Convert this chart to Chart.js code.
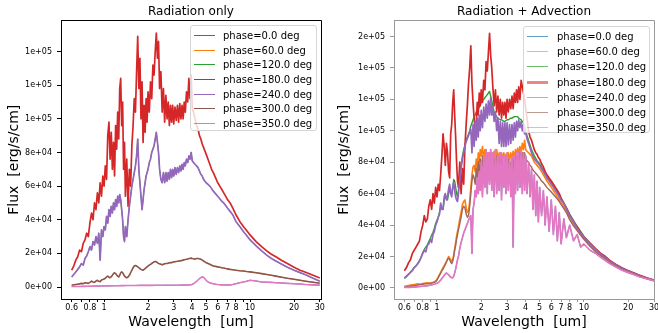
<!DOCTYPE html>
<html>
<head>
<meta charset="utf-8">
<script src="https://cdn.jsdelivr.net/npm/chart.js@4.4.1/dist/chart.umd.min.js"></script>
<style>
  body { margin: 0; background: #fff; }
  #wrap { position: relative; width: 658px; height: 333px; font-family: "DejaVu Sans", sans-serif; }
  canvas { position: absolute; top: 0; }
  .legend { position: absolute; box-sizing: border-box; border: 1px solid #d6d6d6; border-radius: 3px;
            background: rgba(255, 255, 255, 0.8); font-size: 10px; color: #000; padding-top: 2px; }
  .legend .row { display: flex; align-items: center; white-space: nowrap; }
  .legend .swatch { display: inline-block; width: 21px; height: 0; margin-left: 3px; }
</style>
</head>
<body>
<div id="wrap">
  <canvas id="left" width="330" height="333" style="left:0"></canvas>
  <canvas id="right" width="328" height="333" style="left:330px"></canvas>
  <div id="legend-left" class="legend" style="left:190px; top:25px; width:127px; height:106px"></div>
  <div id="legend-right" class="legend" style="left:523px; top:26px; width:127px; height:107px"></div>
</div>
<script>
const FONT = '"DejaVu Sans", sans-serif';

const phaseLabels = ['phase=0.0 deg', 'phase=60.0 deg', 'phase=120.0 deg', 'phase=180.0 deg',
                     'phase=240.0 deg', 'phase=300.0 deg', 'phase=350.0 deg'];

const xTicks = [0.6, 0.7, 0.8, 0.9, 1, 2, 3, 4, 5, 6, 7, 8, 9, 10, 20, 30];
const xLabels = [0.6, 0.8, 1, 2, 3, 4, 5, 6, 7, 8, 10, 20, 30];
const yTicksLeft = [0, 20000, 40000, 60000, 80000, 100000, 120000, 140000];
const yTicksRight = [0, 20000, 40000, 60000, 80000, 100000, 120000, 140000, 160000];

// wavelength grid (um), 10 per row
const wavelengths = [
  0.6, 0.62, 0.64, 0.66, 0.68, 0.7, 0.72, 0.74, 0.76, 0.78,
  0.8, 0.82, 0.84, 0.86, 0.88, 0.9, 0.92, 0.94, 0.96, 0.98,
  1.0, 1.02, 1.04, 1.06, 1.08, 1.1, 1.12, 1.14, 1.16, 1.18,
  1.2, 1.22, 1.24, 1.26, 1.28, 1.3, 1.32, 1.34, 1.36, 1.38,
  1.4, 1.43, 1.46, 1.49, 1.52, 1.55, 1.58, 1.61, 1.64, 1.67,
  1.7, 1.73, 1.76, 1.79, 1.82, 1.85, 1.88, 1.91, 1.94, 1.97,
  2.0, 2.04, 2.08, 2.12, 2.16, 2.2, 2.24, 2.28, 2.32, 2.36,
  2.4, 2.45, 2.5, 2.55, 2.6, 2.65, 2.7, 2.75, 2.8, 2.85,
  2.9, 2.95, 3.0, 3.06, 3.12, 3.18, 3.24, 3.3, 3.36, 3.42,
  3.48, 3.54, 3.6, 3.67, 3.74, 3.81, 3.88, 3.95, 4.02, 4.1,
  4.2, 4.3, 4.4, 4.5, 4.6, 4.7, 4.8, 4.9, 5.0, 5.15,
  5.3, 5.45, 5.6, 5.8, 6.0, 6.2, 6.4, 6.6, 6.8, 7.0,
  7.3, 7.6, 8.0, 8.5, 9.0, 9.5, 10, 11, 12, 13,
  14, 15, 16.5, 18, 20, 22, 24, 27, 30
];

// ---- Radiation only ----
const leftFlux180 = [
  10000, 12500, 16000, 18000, 22000, 21000, 26000, 28000, 32000, 30000,
  38000, 44000, 40000, 50000, 46000, 56000, 50000, 62000, 54000, 66000,
  60000, 72000, 64000, 90000, 98000, 76000, 92000, 70000, 86000, 66000,
  96000, 82000, 104000, 88000, 118000, 124000, 96000, 110000, 70000, 86000,
  54000, 76000, 48000, 70000, 60000, 84000, 96000, 112000, 104000, 128000,
  149000, 118000, 136000, 100000, 122000, 86000, 108000, 92000, 112000, 98000,
  116000, 104000, 122000, 112000, 132000, 126000, 140000, 151000, 136000, 146000,
  118000, 128000, 104000, 118000, 98000, 114000, 100000, 110000, 96000, 108000,
  98000, 108000, 97000, 107000, 99000, 108000, 98000, 109000, 100000, 108000,
  100000, 110000, 104000, 116000, 110000, 124000, 112000, 126000, 106000, 104000,
  100000, 96000, 94000, 90000, 88000, 85000, 83000, 81000, 79000, 76000,
  73000, 70000, 68000, 65000, 62000, 60000, 58000, 56000, 54000, 52000,
  50000, 47000, 43000, 39000, 36000, 33500, 31000, 27000, 24000, 21500,
  19500, 18000, 15800, 14000, 11800, 10000, 8800, 7000, 5400
];
const leftFlux240 = [
  6000, 7500, 9000, 10500, 12000, 14000, 13000, 17000, 18500, 21000,
  24000, 22000, 27000, 25000, 30000, 26000, 32000, 16000, 34000, 30000,
  36000, 34000, 42000, 38000, 46000, 42000, 48000, 44000, 50000, 46000,
  52000, 48000, 54000, 50000, 55000, 52000, 46000, 40000, 30000, 27000,
  36000, 30000, 40000, 48000, 54000, 60000, 64000, 68000, 72000, 78000,
  88000, 70000, 62000, 54000, 46000, 52000, 58000, 62000, 66000, 68000,
  70000, 74000, 76000, 80000, 82000, 84000, 88000, 92000, 86000, 80000,
  70000, 64000, 62000, 68000, 62000, 68000, 63000, 68000, 64000, 70000,
  65000, 70000, 66000, 71000, 67000, 71000, 68000, 72000, 69000, 73000,
  70000, 74000, 72000, 76000, 74000, 78000, 76000, 80000, 75000, 74000,
  73000, 72000, 71000, 69000, 67000, 66000, 64000, 63000, 62000, 61000,
  60000, 58500, 57000, 55500, 54000, 52500, 51000, 50000, 48500, 47000,
  45000, 43000, 39000, 36000, 33000, 30500, 28000, 24500, 21500, 19000,
  17000, 15500, 13500, 11800, 10000, 8600, 7300, 5200, 3500
];
const leftFlux300 = [
  1200, 1300, 1500, 1700, 1900, 2200, 2000, 2600, 2400, 2200,
  2800, 3500, 3000, 2800, 3600, 4000, 3400, 3200, 4200, 4500,
  4800, 5200, 6000, 6500, 5800, 5500, 6200, 7000, 8000, 8500,
  8000, 7200, 6500, 6000, 7000, 8500, 9000, 8500, 7500, 6500,
  6000, 5500, 6000, 7000, 8500, 10000, 11500, 12500, 12800, 12500,
  12000, 11500, 11000, 10500, 10200, 10000, 10500, 11000, 11500, 12000,
  12500, 13000, 13500, 14000, 14500, 15000, 15200, 15000, 14500, 14000,
  13800, 13500, 13200, 13500, 13800, 14000, 14000, 14200, 14400, 14500,
  14500, 14700, 15000, 15000, 15200, 15300, 15500, 15500, 15700, 15800,
  16000, 16200, 16400, 16500, 16700, 17000, 17000, 17200, 17000, 16800,
  16600, 17000, 17000, 16800, 16500, 16000, 15500, 15000, 14500, 14000,
  13500, 13000, 12500, 12300, 12000, 11800, 11500, 11300, 11000, 10800,
  10500, 10300, 10000, 9700, 9500, 9200, 9000, 8500, 8000, 7500,
  7000, 6500, 5800, 5200, 4600, 4000, 3500, 2900, 2300
];
const leftFlux350 = [
  300, 300, 320, 340, 360, 380, 400, 420, 440, 460,
  480, 500, 520, 540, 560, 580, 600, 600, 620, 640,
  650, 660, 680, 700, 700, 720, 740, 750, 760, 780,
  800, 800, 810, 820, 830, 840, 850, 850, 860, 870,
  880, 890, 900, 900, 910, 920, 930, 940, 950, 960,
  970, 980, 990, 1000, 1000, 1000, 1000, 1000, 1000, 1000,
  1000, 1000, 1000, 1000, 1000, 1050, 1050, 1050, 1050, 1050,
  1050, 1050, 1050, 1050, 1100, 1100, 1100, 1100, 1100, 1100,
  1100, 1100, 1100, 1100, 1100, 1100, 1100, 1100, 1150, 1150,
  1150, 1150, 1200, 1200, 1250, 1300, 1350, 1400, 1600, 2000,
  2600, 3400, 4200, 5000, 5600, 6000, 5800, 5000, 4000, 3000,
  2500, 2200, 2000, 1700, 1500, 1400, 1300, 1300, 1200, 1200,
  1300, 1500, 2000, 2600, 3000, 3500, 4000, 3600, 3000, 2900,
  2800, 2600, 2400, 2200, 2000, 1800, 1500, 1300, 1100
];
// hidden under their symmetric partners
const leftFlux0 = leftFlux350;
const leftFlux60 = leftFlux300;
const leftFlux120 = leftFlux240;

// ---- Radiation + Advection ----
const rightFlux60 = [
  1300, 1400, 1600, 1800, 2000, 2200, 2400, 2600, 2500, 2400,
  2800, 3000, 3200, 3300, 3200, 3000, 3400, 3600, 4000, 4500,
  5500, 7000, 8500, 10000, 11500, 13000, 14000, 15500, 17000, 18500,
  20000, 19000, 18000, 17000, 18000, 21000, 25000, 29000, 33000, 36000,
  39000, 44000, 48000, 53000, 55000, 56000, 51000, 48000, 49000, 55000,
  64000, 72000, 77000, 78000, 74000, 82000, 76000, 86000, 80000, 88000,
  84000, 90000, 82000, 88000, 80000, 86000, 80000, 86000, 80000, 86000,
  80000, 87000, 80000, 88000, 82000, 86000, 80000, 86000, 82000, 86000,
  82000, 85000, 82000, 86000, 81000, 86000, 82000, 87000, 82000, 88000,
  84000, 89000, 85000, 90000, 86000, 92000, 88000, 94000, 88000, 87000,
  86000, 85000, 84000, 82000, 80000, 79000, 78000, 77000, 76000, 74000,
  72000, 70000, 68000, 66000, 64000, 62000, 60000, 58000, 56000, 54000,
  51500, 49000, 44000, 40000, 37000, 34000, 31500, 27000, 23500, 21000,
  19000, 16500, 14300, 12200, 10400, 9000, 7500, 6000, 4800
];
const rightFlux120 = [
  6000, 7200, 8500, 10000, 11500, 13000, 14200, 15500, 17500, 19500,
  22500, 24500, 26000, 27500, 29500, 31500, 33500, 35500, 38000, 41000,
  43000, 45000, 48000, 52000, 51000, 50000, 56000, 58000, 57000, 56000,
  60000, 62000, 61000, 60000, 64000, 69000, 68000, 64000, 60000, 58000,
  62000, 70000, 78000, 84000, 88000, 91000, 94000, 96000, 98000, 100000,
  103000, 105000, 107000, 109000, 110000, 112000, 113000, 114000, 115000, 116000,
  118000, 119000, 120000, 121000, 122000, 123000, 124000, 125000, 122000, 119000,
  116000, 112000, 110000, 109000, 108000, 107500, 107000, 107000, 106500, 106000,
  106000, 106500, 107000, 107000, 107500, 108000, 108000, 108500, 109000, 109000,
  109000, 109000, 108000, 107500, 107000, 106000, 105000, 103000, 100000, 97000,
  94000, 91000, 88000, 86000, 84000, 82500, 81000, 80000, 79000, 77000,
  75000, 73000, 71000, 69000, 67000, 65000, 63000, 61000, 59000, 57000,
  54000, 51000, 47000, 43000, 39000, 36000, 33000, 28500, 25000, 22000,
  20000, 17300, 15000, 12800, 11000, 9400, 8000, 6300, 5000
];
const rightFlux180 = [
  11000, 13000, 16000, 18000, 22000, 24000, 26000, 28000, 30000, 36000,
  40000, 46000, 42000, 44000, 52000, 56000, 50000, 60000, 54000, 64000,
  58000, 66000, 62000, 72000, 84000, 98000, 90000, 78000, 92000, 86000,
  74000, 70000, 98000, 104000, 118000, 126000, 110000, 96000, 80000, 68000,
  64000, 80000, 60000, 76000, 66000, 90000, 104000, 116000, 130000, 140000,
  154000, 130000, 118000, 108000, 100000, 104000, 118000, 110000, 124000, 116000,
  126000, 118000, 132000, 126000, 144000, 138000, 150000, 162000, 148000, 140000,
  128000, 116000, 126000, 112000, 122000, 110000, 120000, 108000, 118000, 110000,
  118000, 108000, 120000, 112000, 120000, 114000, 122000, 114000, 124000, 118000,
  126000, 118000, 128000, 120000, 132000, 128000, 124000, 120000, 114000, 108000,
  100000, 96000, 94000, 91000, 88000, 86000, 85000, 83000, 82000, 79000,
  77000, 74000, 72000, 70000, 68000, 66000, 64000, 62000, 60000, 57000,
  54000, 51000, 46500, 42000, 39000, 35500, 32500, 28500, 25000, 22000,
  20000, 17500, 15000, 13000, 11000, 9500, 8000, 6300, 5000
];
const rightFlux240 = [
  6400, 7500, 8800, 10000, 11000, 13000, 14000, 15500, 17000, 19500,
  22000, 24000, 23000, 27000, 28000, 31000, 29000, 34000, 36000, 40000,
  42000, 45000, 47000, 54000, 50000, 50000, 58000, 60000, 56000, 58000,
  63000, 66000, 60000, 58000, 64000, 67000, 62000, 58000, 56000, 55000,
  60000, 68000, 76000, 82000, 86000, 90000, 93000, 95000, 97000, 99000,
  101000, 86000, 104000, 90000, 106000, 94000, 108000, 96000, 110000, 100000,
  113000, 102000, 115000, 106000, 117000, 108000, 119000, 110000, 121000, 110000,
  116000, 106000, 112000, 100000, 108000, 92000, 106000, 90000, 105000, 90000,
  105000, 90000, 105000, 91000, 104000, 92000, 104000, 94000, 105000, 96000,
  106000, 100000, 107000, 102000, 106000, 100000, 104000, 98000, 99000, 95000,
  92000, 89000, 86000, 84000, 82000, 81000, 80000, 79000, 78000, 76000,
  74000, 72000, 70000, 68000, 66000, 64000, 62000, 60000, 58000, 56000,
  53500, 50500, 46000, 42000, 38000, 35000, 32500, 28000, 24500, 21500,
  19500, 17000, 14800, 12600, 10800, 9200, 7800, 6200, 5000
];
const rightFlux300 = [
  700, 800, 1000, 1100, 1300, 1500, 1700, 1900, 2000, 2200,
  2400, 2500, 2700, 2800, 2700, 3000, 3100, 3300, 3600, 4000,
  5000, 6500, 8000, 9500, 11000, 12000, 13500, 15000, 16500, 18000,
  19000, 18000, 16500, 15500, 17000, 20000, 24000, 27000, 31000, 34000,
  37000, 41000, 45000, 50000, 52000, 51000, 47000, 45000, 46000, 52000,
  60000, 68000, 72000, 70000, 66000, 76000, 70000, 80000, 72000, 82000,
  74000, 84000, 72000, 82000, 70000, 80000, 70000, 82000, 70000, 80000,
  72000, 82000, 70000, 84000, 70000, 82000, 68000, 82000, 70000, 80000,
  70000, 82000, 68000, 82000, 70000, 80000, 72000, 82000, 72000, 84000,
  74000, 84000, 76000, 86000, 78000, 86000, 80000, 86000, 82000, 81000,
  80000, 78000, 77000, 75000, 74000, 73000, 72000, 71000, 70000, 68000,
  67000, 65500, 64000, 62500, 61000, 59500, 58000, 56500, 55000, 53000,
  50500, 48000, 43500, 39500, 36500, 33500, 31000, 26500, 23000, 20500,
  18500, 16000, 14000, 12000, 10200, 8800, 7400, 5900, 4700
];
const rightFlux350 = [
  300, 350, 400, 450, 500, 600, 700, 800, 900, 1000,
  1100, 1200, 1300, 1400, 1600, 1800, 2000, 2200, 2400, 2700,
  3000, 3500, 4200, 5000, 6000, 7000, 8000, 9000, 9500, 9000,
  8500, 7500, 7000, 6500, 6400, 7500, 9500, 12000, 15000, 18000,
  20000, 25000, 29000, 32000, 35000, 37000, 39000, 41000, 43000, 45000,
  46000, 22000, 50000, 54000, 62000, 58000, 70000, 60000, 74000, 62000,
  80000, 58000, 84000, 64000, 88000, 60000, 86000, 66000, 88000, 62000,
  86000, 58000, 88000, 60000, 84000, 62000, 86000, 56000, 84000, 64000,
  84000, 60000, 86000, 62000, 82000, 58000, 84000, 26000, 84000, 60000,
  86000, 62000, 86000, 64000, 88000, 60000, 86000, 62000, 84000, 60000,
  80000, 58000, 76000, 50000, 72000, 46000, 68000, 42000, 64000, 46000,
  62000, 40000, 58000, 36000, 56000, 34000, 52000, 30000, 48000, 28000,
  44000, 32000, 40000, 30000, 34000, 26000, 28000, 24000, 22000, 19500,
  17500, 15500, 13300, 11400, 9800, 8400, 7000, 5700, 4500
];
const rightFlux0 = rightFlux350;

const colorsLeft = ['#1f77b4', '#ff7f0e', '#2ca02c', '#d62728', '#9467bd', '#8c564b', '#e377c2'];
const colorsRight = ['#1f77b4', '#ff7f0e', '#2ca02c', '#d62728', '#9467bd', '#a0665c', '#e377c2'];
const legendRight = ['rgba(31,119,180,0.7)', 'rgba(255,127,14,0.6)', 'rgba(44,160,44,0.7)', 'rgba(214,39,40,0.55)',
                     'rgba(148,103,189,0.6)', 'rgba(140,86,75,0.6)', 'rgba(227,119,194,0.6)'];

function sci(v) {
  const parts = v.toExponential(0).split('e');
  const exp = parseInt(parts[1], 10);
  return parts[0] + 'e' + (exp < 0 ? '-' : '+') + String(Math.abs(exp)).padStart(2, '0');
}

const framePlugin = {
  id: 'frame',
  afterDraw(chart, args, opts) {
    const { ctx, chartArea: a } = chart;
    ctx.save();
    ctx.strokeStyle = opts.color;
    ctx.lineWidth = 1;
    ctx.beginPath();
    ctx.moveTo(Math.round(a.left), Math.round(a.top) + 0.5);
    ctx.lineTo(Math.round(a.right) + 0.5, Math.round(a.top) + 0.5);
    ctx.lineTo(Math.round(a.right) + 0.5, Math.round(a.bottom));
    ctx.stroke();
    ctx.restore();
  }
};

function makeChart(id, cfg) {
  return new Chart(document.getElementById(id), {
    type: 'line',
    data: {
      datasets: cfg.series.map((vals, i) => ({
        label: phaseLabels[i],
        data: wavelengths.map((w, k) => ({ x: w, y: vals[k] })),
        borderColor: cfg.colors[i],
        borderWidth: cfg.widths[i],
        pointRadius: 0,
        borderJoinStyle: 'round',
        fill: false,
        order: phaseLabels.length - i
      }))
    },
    options: {
      responsive: false,
      animation: false,
      layout: { padding: { left: 0, right: cfg.padRight, top: 0, bottom: 0 } },
      plugins: {
        legend: { display: false },
        tooltip: { enabled: false },
        title: {
          display: true, text: cfg.title, fullSize: false, color: '#000',
          font: { family: FONT, size: 12, weight: 'normal' },
          padding: { top: 5, bottom: 1 }
        },
        frame: { color: cfg.axisColor }
      },
      scales: {
        x: {
          type: 'logarithmic',
          min: cfg.xMin,
          max: cfg.xMax,
          afterBuildTicks: s => { s.ticks = xTicks.map(v => ({ value: v })); },
          afterFit: s => { s.height = 34; s.paddingLeft = 0; s.paddingRight = 0; },
          ticks: {
            autoSkip: false, maxRotation: 0, minRotation: 0, padding: 1, color: '#000',
            font: { family: FONT, size: 8 },
            callback: v => xLabels.includes(v) ? String(v) : ''
          },
          grid: { display: true, drawOnChartArea: false, drawTicks: true, tickLength: 3, color: cfg.axisColor },
          border: { display: true, color: cfg.axisColor },
          title: {
            display: true, text: 'Wavelength  [um]', color: '#000',
            font: { family: FONT, size: 14 }, padding: { top: 0, bottom: 2.6 }
          }
        },
        y: {
          type: 'linear',
          min: cfg.yMin,
          max: cfg.yMax,
          afterBuildTicks: s => { s.ticks = cfg.yTicks.map(v => ({ value: v })); },
          afterFit: s => { s.width = cfg.yWidth; s.paddingTop = 0; s.paddingBottom = 0; },
          ticks: {
            padding: 5, color: '#000',
            font: { family: FONT, size: 8 },
            callback: v => sci(v)
          },
          grid: { display: true, drawOnChartArea: false, drawTicks: true, tickLength: 4, color: cfg.axisColor },
          border: { display: true, color: cfg.axisColor },
          title: {
            display: true, text: 'Flux  [erg/s/cm]', color: '#000',
            font: { family: FONT, size: 14 }, padding: { top: cfg.yTitlePad, bottom: 0 }
          }
        }
      }
    },
    plugins: [framePlugin]
  });
}

function buildLegend(id, colors, widths, rowHeight, gap) {
  const box = document.getElementById(id);
  phaseLabels.forEach((label, i) => {
    const row = document.createElement('div');
    row.className = 'row';
    row.style.height = rowHeight + 'px';
    const sw = document.createElement('span');
    sw.className = 'swatch';
    sw.style.borderTop = widths[i] + 'px solid ' + colors[i];
    sw.style.marginRight = gap + 'px';
    const txt = document.createElement('span');
    txt.textContent = label;
    row.append(sw, txt);
    box.appendChild(row);
  });
}

makeChart('left', {
  title: 'Radiation only',
  series: [leftFlux0, leftFlux60, leftFlux120, leftFlux180, leftFlux240, leftFlux300, leftFlux350],
  colors: colorsLeft,
  widths: [1, 1, 1, 1.7, 1.7, 1.6, 1.6],
  xMin: 0.507, xMax: 30.6,
  yMin: -7100, yMax: 158500,
  yTicks: yTicksLeft,
  yWidth: 61, padRight: 9, yTitlePad: 5.6,
  axisColor: '#000'
});

makeChart('right', {
  title: 'Radiation + Advection',
  series: [rightFlux0, rightFlux60, rightFlux120, rightFlux180, rightFlux240, rightFlux300, rightFlux350],
  colors: colorsRight,
  widths: [1, 1.6, 1.4, 1.7, 1.7, 1.4, 1.7],
  xMin: 0.51, xMax: 30,
  yMin: -7000, yMax: 170200,
  yTicks: yTicksRight,
  yWidth: 64, padRight: 4, yTitlePad: 6,
  axisColor: '#999'
});

buildLegend('legend-left', colorsLeft, [1.5, 1.5, 1.5, 1.5, 1.5, 1.5, 1.5], 14.7, 8);
buildLegend('legend-right', legendRight, [1.5, 1.5, 1.5, 3, 1.5, 1.5, 1.5], 15.2, 9);
</script>
</body>
</html>
